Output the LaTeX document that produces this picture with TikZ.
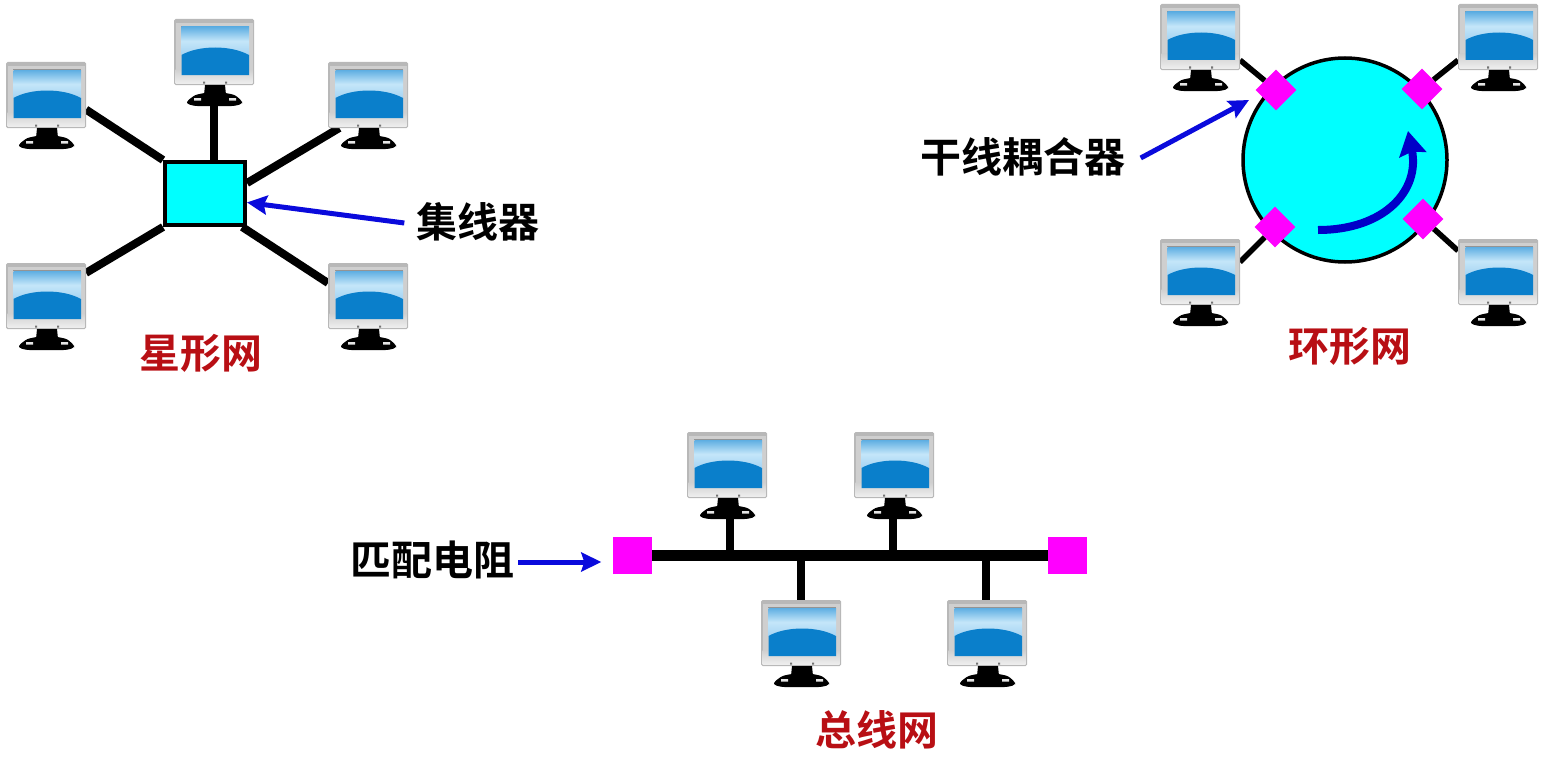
\documentclass[tikz,border=0pt]{standalone}
\usepackage{fontspec}
\newfontfamily\cjk{Noto Sans CJK SC Bold}
\usetikzlibrary{arrows.meta,shapes.geometric,backgrounds}
\definecolor{tapred}{HTML}{B80F14}
\definecolor{leadblue}{HTML}{0A0ADC}
\definecolor{flowblue}{HTML}{0000C8}
\definecolor{hubcyan}{HTML}{00FFFF}
\definecolor{tapmagenta}{HTML}{FF00FF}
\definecolor{glasstop}{HTML}{5EAEE2}
\definecolor{glassmid}{HTML}{C4E6F9}
\definecolor{glasslow}{HTML}{A5D3F2}
\definecolor{glassdeep}{HTML}{0A7FCB}
\definecolor{bezeldark}{HTML}{B8B8B8}
\definecolor{bezelmid}{HTML}{CFCFCF}
\definecolor{bezellight}{HTML}{EDEDED}
\tikzset{
  x=1pt,y=-1pt,
  monitor/.pic={
    % bezel
    \fill[bezeldark,rounded corners=1.5pt] (0,0) rectangle (80,66);
    \fill[bezelmid] (1.5,4) rectangle (78.5,58);
    \path[top color=bezelmid,bottom color=bezellight] (1.5,50) rectangle (78.5,64);
    % screen
    \fill[black!42] (7,7) rectangle (75,8);
    \path[top color=glasstop,bottom color=glasslow,middle color=glassmid] (7.5,8) rectangle (75,36);
    \fill[glassdeep] (7.5,36) .. controls (25,26) and (57,26) .. (75,36) -- (75,56) -- (7.5,56) -- cycle;
    % stand
    \fill[black!55] (29,62.5) rectangle +(2,2) (51,62.5) rectangle +(2,2);
    \fill[black] (31,66) -- (51,66) -- (52,76) -- (30,76) -- cycle;
    \fill[black,rounded corners=2.5pt] (30,74) -- (52,74) -- (61,76) -- (68,82) -- (68,85) -- (60,87) -- (21,87) -- (13,85) -- (13,82) -- (21,76) -- cycle;
    \fill[black!10] (20,79) rectangle (27,81.5) (55,79) rectangle (62,81.5);
  },
  monbox/.style={minimum width=80pt,minimum height=66pt,inner sep=0pt,outer sep=0pt},
  spoke/.style={line width=8pt,black},
  tapline/.style={line width=5.5pt,black},
  busline/.style={line width=11pt,black},
  drop/.style={line width=8pt,black},
  hubbox/.style={draw=black,line width=4pt,fill=hubcyan,minimum width=80pt,minimum height=63pt,inner sep=0pt},
  ringdisc/.style={circle,draw=black,line width=3.5pt,fill=hubcyan,minimum size=204pt,inner sep=0pt},
  tapdiamond/.style={diamond,fill=tapmagenta,minimum width=41pt,minimum height=41pt,inner sep=0pt},
  endbox/.style={fill=tapmagenta,minimum width=39pt,minimum height=37pt,inner sep=0pt},
  leader/.style={leadblue,line width=5pt,-{Stealth[length=20pt,width=19pt,inset=3pt]}},
  caption/.style={font=\cjk\fontsize{41}{41}\selectfont,text=black,inner sep=0pt},
  netname/.style={font=\cjk\fontsize{41}{41}\selectfont,text=tapred,inner sep=0pt},
}
% a terminal: the drawing plus a named box over its bezel
\newcommand{\terminal}[3]{%
  \pic at (#2,#3) {monitor};
  \node[monbox] (#1) at (#2+40,#3+33) {};
}
\begin{document}
\begin{tikzpicture}
\useasboundingbox (0,0) rectangle (1549,760);

% star network
\terminal{s1}{6}{62}
\terminal{s2}{174}{19}
\terminal{s3}{328}{62}
\terminal{s4}{6}{263}
\terminal{s5}{328}{263}
\node[hubbox] (hub) at (205,193.5) {};
\node[caption] (hublabel) at (478,222) {集线器};
\node[netname] (starname) at (201,353) {星形网};
\begin{scope}[on background layer]
  \draw[spoke] (s1.-20) -- (hub.north west);
  \draw[spoke] (s2.south) -- (s2.south |- hub.north);
  \draw[spoke] (s3.229) -- (hub.14);
  \draw[spoke] (s4.30) -- (hub.south west);
  \draw[spoke] (s5.162) -- (hub.-42);
\end{scope}
\draw[leader] ([yshift=-1pt,xshift=-12pt]hublabel.west) -- (hub.-12);

% ring network
\terminal{r1}{1160}{4}
\terminal{r2}{1458}{4}
\terminal{r3}{1160}{239}
\terminal{r4}{1458}{239}
\node[ringdisc] (ring) at (1345,160) {};
\node[tapdiamond] (t1) at (1276,90) {};
\node[tapdiamond] (t2) at (1422,89) {};
\node[tapdiamond] (t3) at (1275,227) {};
\node[tapdiamond] (t4) at (1423,219) {};
\node[caption] (taplabel) at (1023,157) {干线耦合器};
\node[netname] (ringname) at (1350,346) {环形网};
\coordinate (tapaim) at (1249,100);
\coordinate (flowa) at (1318,230);
\coordinate (flowb) at (1408,131);
\begin{scope}[on background layer]
  \draw[tapline] (r1.-30) -- (t1);
  \draw[tapline] (r2.210) -- (t2);
  \draw[tapline] (r3.14) -- (t3);
  \draw[tapline] (r4.152) -- (t4);
\end{scope}
\draw[leader] ([xshift=15pt,yshift=-1pt]taplabel.east) -- (tapaim);
\draw[flowblue,line width=8pt,-{Stealth[length=24pt,width=27pt,inset=3pt]}]
  (flowa) .. controls (1385,230) and (1420,190) .. (flowb);

% bus network
\terminal{b1}{687}{432}
\terminal{b2}{854}{432}
\terminal{b3}{761}{600}
\terminal{b4}{947}{600}
\node[endbox] (e1) at (632,555) {};
\node[endbox] (e2) at (1067.5,555) {};
\node[caption] (endlabel) at (432,560) {匹配电阻};
\node[netname] (busname) at (877,730) {总线网};
\begin{scope}[on background layer]
  \draw[busline] (e1) -- (e2);
  \draw[drop] ([xshift=3pt]b1.south) -- ([xshift=3pt]b1.south |- e1.center);
  \draw[drop] ([xshift=-1pt]b2.south) -- ([xshift=-1pt]b2.south |- e1.center);
  \draw[drop] (b3.north) -- (b3.north |- e1.center);
  \draw[drop] ([xshift=-1pt]b4.north) -- ([xshift=-1pt]b4.north |- e1.center);
\end{scope}
\draw[leader] ([xshift=4pt,yshift=-2pt]endlabel.east) -- ([yshift=-2pt,xshift=-11pt]endlabel.east -| e1.west);
\end{tikzpicture}
\end{document}
